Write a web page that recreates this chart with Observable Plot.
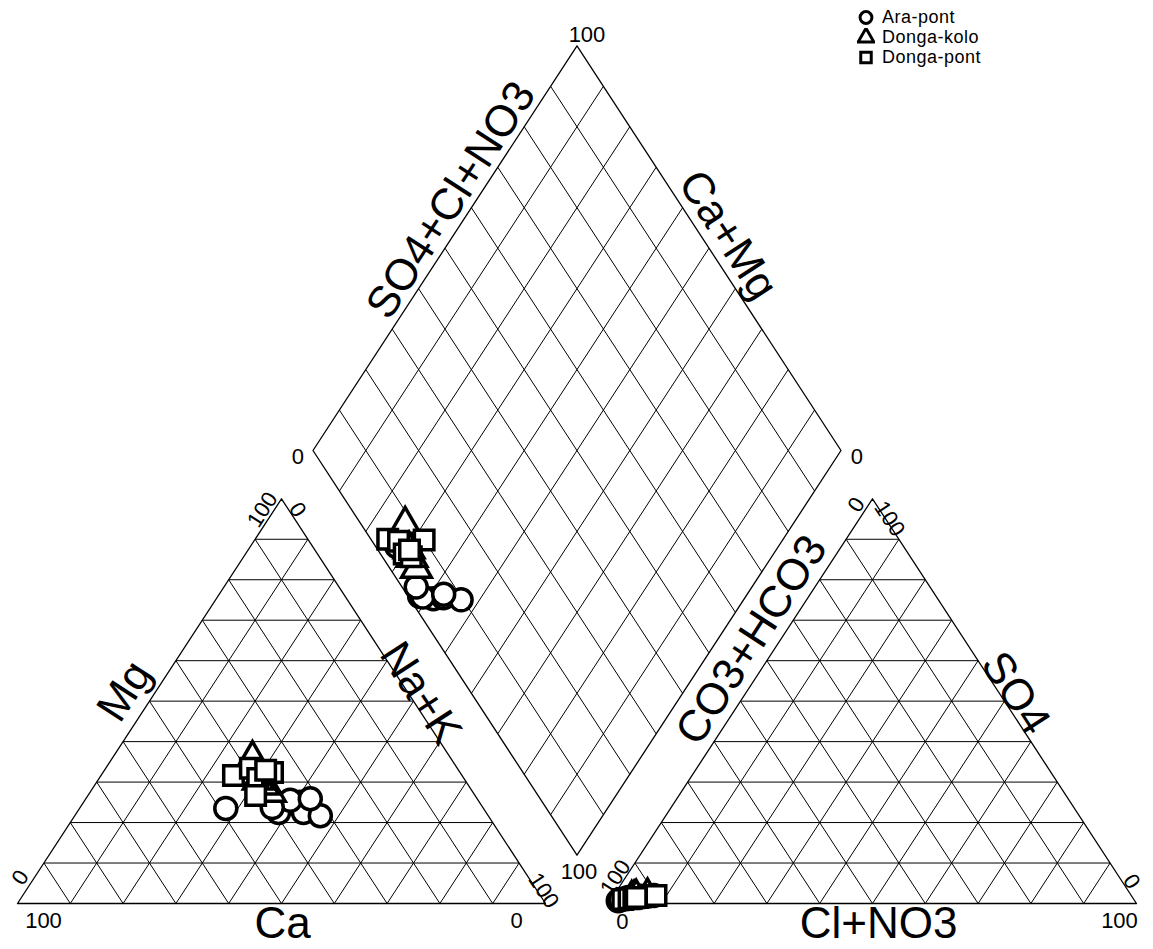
<!DOCTYPE html>
<html><head><meta charset="utf-8">
<script src="https://cdn.jsdelivr.net/npm/d3@7"></script>
<script src="https://cdn.jsdelivr.net/npm/@observablehq/plot@0.6"></script>
<style>
body{margin:0;background:#fff;font-family:"Liberation Sans",Arial,sans-serif;}
#wrap{position:relative;width:1153px;height:949px;overflow:hidden;}
#legend{position:absolute;left:857px;top:7px;font-size:18px;line-height:20px;color:#000;letter-spacing:0.5px;}
#legend .row{display:flex;align-items:center;height:20px;}
#legend svg{margin-right:7px;}
</style></head><body><div id="wrap"><div id="legend"></div></div>
<script>
// ---- data (percent of meq) ----
const groups = ["Ara-pont", "Donga-kolo", "Donga-pont"];
const groupSymbols = ["circle", "triangle", "square"];
const sampleGroup = [
  "Ara-pont","Ara-pont","Ara-pont","Ara-pont","Ara-pont","Ara-pont","Ara-pont","Ara-pont",
  "Donga-kolo","Donga-kolo","Donga-kolo","Donga-kolo",
  "Donga-pont","Donga-pont","Donga-pont","Donga-pont","Donga-pont","Donga-pont"
];
const caPct  = [48.8,39.3,33.9,34.6,31.8,35.6,31.6,39.9, 37.6,38.4,38.8,39.2, 43.3,39.2,39.05,35.5,41.55,36.55];
const mgPct  = [23.5,22.5,25.0,22.5,21.7,25.5,25.9,23.7, 35.8,27.4,29.2,30.4, 31.6,33.4,30.9,32.4,26.7,32.9];
const nakPct = [27.7,38.2,41.1,42.9,46.5,38.9,42.5,36.4, 26.6,34.2,32.0,30.4, 25.1,27.4,30.05,32.1,31.75,30.55];
const so4Pct = [1.2,0.7,1.5,1.6,2.0,0.9,1.8,1.0, 1.8,1.2,1.3,1.5, 1.0,1.3,1.2,2.0,1.4,1.5];
const clPct  = [2.8,1.5,3.0,4.9,7.6,1.8,5.2,1.7, 6.5,3.8,4.2,4.5, 2.2,3.7,3.3,8.0,4.1,4.5];
const hco3Pct = so4Pct.map((s, i) => +(100 - s - clPct[i]).toFixed(2));
const ticks = d3.range(10, 100, 10);

// ---- geometry (triangle side = 100 units, height = 100 units) ----
const G = 11.93;              // gap between triangles
const KX = 5.28, KY = 4.047;  // px per unit
const X0 = 17, Y0 = 903;      // pixel position of left triangle's lower-left corner
const W = 1153, H = 949;

const cat = (mg, nak) => ({x: nak + mg / 2, y: mg});
const ani = (so4, cl) => ({x: 100 + G + cl + so4 / 2, y: so4});
const dia = (c, a) => ({x: 100 + G / 2 - c / 2 + a / 2, y: G + c + a});

const V = {
  LBL: {x: 0, y: 0}, LBR: {x: 100, y: 0}, LAP: {x: 50, y: 100},
  RBL: {x: 100 + G, y: 0}, RBR: {x: 200 + G, y: 0}, RAP: {x: 150 + G, y: 100},
  DB: dia(0, 0), DL: dia(100, 0), DR: dia(0, 100), DT: dia(100, 100)
};

// grid segments
const segs = [];
const seg = (p, q) => segs.push({x1: p.x, y1: p.y, x2: q.x, y2: q.y});
for (const t of ticks) {
  seg(cat(t, 0), cat(t, 100 - t));
  seg(cat(0, t), cat(100 - t, t));
  seg(cat(0, 100 - t), cat(100 - t, 0));
  seg(ani(t, 0), ani(t, 100 - t));
  seg(ani(0, t), ani(100 - t, t));
  seg(ani(0, 100 - t), ani(100 - t, 0));
  seg(dia(t, 0), dia(t, 100));
  seg(dia(0, t), dia(100, t));
}
const outlines = [
  ...[V.LBL, V.LBR, V.LAP, V.LBL].map(p => ({...p, k: "L"})),
  ...[V.RBL, V.RBR, V.RAP, V.RBL].map(p => ({...p, k: "R"})),
  ...[V.DB, V.DR, V.DT, V.DL, V.DB].map(p => ({...p, k: "D"}))
];

// sample points projected into the three fields
const pts = [];
sampleGroup.forEach((g, i) => {
  const gi = groups.indexOf(g);
  pts.push({g, gi, ...cat(mgPct[i], nakPct[i])});
  pts.push({g, gi, ...ani(so4Pct[i], clPct[i])});
  pts.push({g, gi, ...dia(caPct[i] + mgPct[i], so4Pct[i] + clPct[i])});
});
pts.sort((a, b) => a.gi - b.gi);

// labels: anchored at vertices / edge midpoints, offset in px
const mid = (p, q) => ({x: (p.x + q.x) / 2, y: (p.y + q.y) / 2});
const labels = [];
const lab = (p, dx, dy, text, rot, size) =>
  labels.push({x: p.x + dx / KX, y: p.y - dy / KY, text, rot, size});
const A = 57, NS = 22, TS = 44;
lab(V.LBL, 26, 17, "100", 0, NS);
lab(V.LBR, -29, 17, "0", 0, NS);
lab(V.DL, -15, 6, "0", 0, NS);
lab(V.DR, 16, 6, "0", 0, NS);
lab(V.DT, 10, -11, "100", 0, NS);
lab(V.DB, 2, 17, "100", 0, NS);
lab(V.RBL, 14, 18, "0", 0, NS);
lab(V.RBR, -17, 17, "100", 0, NS);
lab(V.LBL, 3, -26, "0", -A, NS);
lab(V.LAP, -19, 11, "100", -A, NS);
lab(V.RBL, 7, -26, "100", -A, NS);
lab(V.RAP, -16, 6, "0", -A, NS);
lab(V.LBR, -2, -13, "100", A, NS);
lab(V.LAP, 16, 11, "0", A, NS);
lab(V.RAP, 17, 20, "100", A, NS);
lab(V.RBR, -5, -22, "0", A, NS);
lab(mid(V.LBL, V.LBR), 1, 20, "Ca", 0, TS);
lab(mid(V.RBL, V.RBR), 6, 20, "Cl+NO3", 0, TS);
lab(mid(V.LBL, V.LAP), -25, -10, "Mg", -A, TS);
lab(mid(V.LBR, V.LAP), 7, -8, "Na+K", A, TS);
lab(mid(V.DL, V.DT), 6, -48, "SO4+Cl+NO3", -A, TS);
lab(mid(V.DR, V.DT), 19, -13, "Ca+Mg", A, TS);
lab(mid(V.RBL, V.RAP), 11, -61, "CO3+HCO3", -A, TS);
lab(mid(V.RBR, V.RAP), 11, -8, "SO4", A, TS);

const textMarks = [];
for (const size of [NS, TS]) for (const rot of [0, -A, A]) {
  const d = labels.filter(l => l.size === size && l.rot === rot);
  if (d.length) textMarks.push(Plot.text(d, {x: "x", y: "y", text: "text", rotate: rot, fontSize: size,
    fill: "black", textAnchor: "middle", lineAnchor: "middle", fontFamily: "Liberation Sans, Arial, sans-serif"}));
}

const chart = Plot.plot({
  width: W, height: H, margin: 0,
  x: {domain: [(0 - X0) / KX, (W - X0) / KX], axis: null},
  y: {domain: [(Y0 - H) / KY, Y0 / KY], axis: null},
  symbol: {domain: groups, range: groupSymbols},
  style: {background: "white", fontFamily: "Liberation Sans, Arial, sans-serif"},
  marks: [
    Plot.link(segs, {x1: "x1", y1: "y1", x2: "x2", y2: "y2", stroke: "black", strokeWidth: 1}),
    Plot.line(outlines, {x: "x", y: "y", z: "k", stroke: "black", strokeWidth: 1.3}),
    Plot.dot(pts, {x: "x", y: "y", symbol: "g", r: 11, fill: "white", stroke: "black", strokeWidth: 3.5}),
    ...textMarks
  ]
});
document.getElementById("wrap").prepend(chart);

// legend
const leg = d3.select("#legend");
groups.forEach((g, i) => {
  const row = leg.append("div").attr("class", "row");
  const s = row.append("svg").attr("width", 18).attr("height", 18);
  const type = [d3.symbolCircle, d3.symbolTriangle, d3.symbolSquare][i];
  s.append("path").attr("transform", "translate(9,9.5)")
    .attr("d", d3.symbol(type, 110)())
    .attr("fill", "white").attr("stroke", "black").attr("stroke-width", 3);
  row.append("span").text(g);
});
</script>
</body></html>
